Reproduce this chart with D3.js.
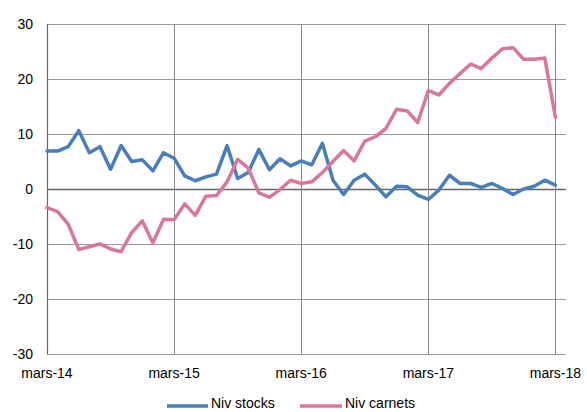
<!DOCTYPE html>
<html><head><meta charset="utf-8">
<script src="https://cdn.jsdelivr.net/npm/d3@7"></script>
<style>body{margin:0;background:#fff}svg{display:block;font-family:"Liberation Sans",Arial,sans-serif}</style>
</head><body><svg id="c" width="587" height="412"></svg>
<script>
const seriesNames = ["Niv stocks", "Niv carnets"];
const xTickLabels = ["mars-14", "mars-15", "mars-16", "mars-17", "mars-18"];
const yTicks = [-30, -20, -10, 0, 10, 20, 30];
const nivStocks = [6.9, 6.9, 7.7, 10.6, 6.6, 7.7, 3.6, 7.9, 5.0, 5.3, 3.3, 6.6,
  5.6, 2.4, 1.5, 2.2, 2.7, 7.9, 1.9, 3.0, 7.2, 3.5, 5.5, 4.2,
  5.1, 4.4, 8.3, 1.6, -1.0, 1.6, 2.7, 0.7, -1.4, 0.5, 0.4, -1.1,
  -1.9, -0.2, 2.5, 1.0, 1.0, 0.3, 1.0, 0.1, -1.0, 0.0, 0.5, 1.6, 0.7];
const nivCarnets = [-3.4, -4.1, -6.4, -11.0, -10.5, -10.0, -10.9, -11.4, -7.9, -5.8, -9.8, -5.5,
  -5.6, -2.7, -4.8, -1.3, -1.2, 1.3, 5.4, 3.8, -0.7, -1.5, -0.1, 1.6,
  1.0, 1.3, 3.0, 5.0, 7.0, 5.1, 8.7, 9.5, 11.0, 14.5, 14.2, 12.1,
  17.9, 17.1, 19.2, 21.0, 22.7, 21.9, 23.8, 25.5, 25.7, 23.6, 23.6, 23.8, 13.0];
const colors = ["#4a7ebb", "#d9779b"];

const svg = d3.select("#c");
const x = d3.scaleLinear().domain([0, 49]).range([47, 566]);
const y = d3.scaleLinear().domain([-30, 30]).range([354, 24]);

// horizontal gridlines
svg.append("g").selectAll("line").data(yTicks).join("line")
  .attr("x1", x(0)).attr("x2", x(49))
  .attr("y1", d => Math.round(y(d)) + 0.5).attr("y2", d => Math.round(y(d)) + 0.5)
  .attr("stroke", d => d === 0 ? "#666" : "#999")
  .attr("stroke-width", d => d === 0 ? 1.5 : 1);

// vertical gridlines at each year
const yearIdx = xTickLabels.map((_, i) => i * 12);
svg.append("g").selectAll("line").data(yearIdx.slice(1)).join("line")
  .attr("x1", d => Math.round(x(d)) + 0.5).attr("x2", d => Math.round(x(d)) + 0.5)
  .attr("y1", y(30)).attr("y2", y(-30))
  .attr("stroke", "#888").attr("stroke-width", 1);

// left axis line
svg.append("line").attr("x1", x(0) + 0.5).attr("x2", x(0) + 0.5)
  .attr("y1", y(30)).attr("y2", y(-30)).attr("stroke", "#666").attr("stroke-width", 1.2);

// y labels
svg.append("g").selectAll("text").data(yTicks).join("text")
  .attr("x", 33).attr("y", d => y(d) + 5)
  .attr("text-anchor", "end").attr("font-size", 14).attr("fill", "#000")
  .text(d => d);

// x labels
svg.append("g").selectAll("text").data(xTickLabels).join("text")
  .attr("x", (d, i) => x(i * 12)).attr("y", 378)
  .attr("text-anchor", "middle").attr("font-size", 14).attr("fill", "#000")
  .text(d => d);

// lines
const line = d3.line().x((d, i) => x(i)).y(d => y(d)).curve(d3.curveLinear);
[nivStocks, nivCarnets].forEach((s, k) => {
  svg.append("path").datum(s).attr("d", line)
    .attr("fill", "none").attr("stroke", colors[k]).attr("stroke-width", 3.5)
    .attr("stroke-linejoin", "round").attr("stroke-linecap", "round");
});

// legend
const leg = [{x1: 167, x2: 208, tx: 211}, {x1: 300, x2: 342, tx: 345}];
seriesNames.forEach((n, k) => {
  svg.append("line").attr("x1", leg[k].x1).attr("x2", leg[k].x2)
    .attr("y1", 406).attr("y2", 406).attr("stroke", colors[k]).attr("stroke-width", 3.5);
  svg.append("text").attr("x", leg[k].tx).attr("y", 408)
    .attr("font-size", 14).attr("fill", "#000").text(n);
});
</script></body></html>
